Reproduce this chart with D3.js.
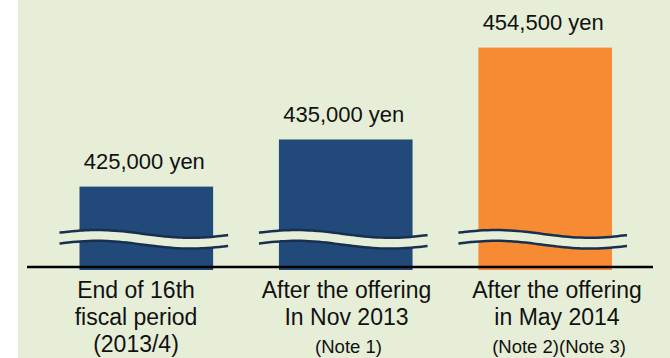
<!DOCTYPE html>
<html>
<head>
<meta charset="utf-8">
<script src="https://cdn.jsdelivr.net/npm/d3@7/dist/d3.min.js"></script>
<style>
  html, body { margin: 0; padding: 0; background: #ffffff; }
  svg { display: block; }
  text { font-family: "Liberation Sans", Arial, sans-serif; fill: #111; }
</style>
</head>
<body>
<svg id="chart" width="670" height="358"></svg>
<script>
// Investment unit price at each stage (yen)
const categories = ["fp16", "nov2013", "may2014"];
const prices = [425000, 435000, 454500];
const valueLabels = ["425,000 yen", "435,000 yen", "454,500 yen"];
const categoryLines = [
  ["End of 16th", "fiscal period", "(2013/4)"],
  ["After the offering", "In Nov 2013"],
  ["After the offering", "in May 2014"]
];
const notes = ["", "(Note 1)", "(Note 2)(Note 3)"];
const barColors = ["#214a7b", "#214a7b", "#f68b33"];

const W = 670, H = 358;
const bg = "#e6eed7";
const axisY = 267;
const barBottom = 270;

const svg = d3.select("#chart");

// panel background
svg.append("rect").attr("x", 18).attr("y", 0).attr("width", W - 18).attr("height", H).attr("fill", bg);

const x = d3.scaleBand().domain(categories).range([79.5, 612]).paddingInner(0.33).paddingOuter(0);
// the value axis is broken, so the bars start well above zero
const y = d3.scaleLinear().domain([407300, 464600]).range([barBottom, 0]);
const labelX = d3.scalePoint().domain(categories).range([136, 557]);

const data = categories.map((c, i) => ({ c, v: prices[i], label: valueLabels[i], color: barColors[i] }));

// bars
svg.selectAll("rect.bar").data(data).join("rect")
  .attr("class", "bar")
  .attr("x", d => x(d.c))
  .attr("y", d => y(d.v))
  .attr("width", x.bandwidth())
  .attr("height", d => barBottom - y(d.v))
  .attr("fill", d => d.color);

// value labels
svg.selectAll("text.val").data(data).join("text")
  .attr("class", "val")
  .attr("x", d => x(d.c) + x.bandwidth() / 2 - 2)
  .attr("y", d => y(d.v) - 17.5)
  .attr("text-anchor", "middle")
  .style("font-size", "22px")
  .text(d => d.label);

// break marks: a gap between two wavy lines across each bar
function wave(x0, x1, mid, amp) {
  return d3.range(0, 41).map(k => {
    const t = k / 40;
    return [x0 + t * (x1 - x0), mid - amp * Math.sin(2 * Math.PI * (t * 0.9 + 0.05))];
  });
}
const upperMid = 233.9, lowerMid = 244.7, amp = 3.9;
const line = d3.line().curve(d3.curveBasis);
data.forEach(d => {
  const x0 = x(d.c) - 20, x1 = x(d.c) + x.bandwidth() + 15;
  const up = wave(x0, x1, upperMid, amp);
  const lo = wave(x0, x1, lowerMid, amp);
  const band = up.concat(lo.slice().reverse());
  svg.append("path").attr("d", d3.line()(band) + "Z").attr("fill", bg);
  [up, lo].forEach(p => svg.append("path")
    .attr("d", line(p))
    .attr("fill", "none")
    .attr("stroke", "#18304f")
    .attr("stroke-width", 2.5)
    .attr("stroke-linecap", "butt"));
});

// baseline
svg.append("line").attr("x1", 27).attr("x2", 653).attr("y1", axisY).attr("y2", axisY)
  .attr("stroke", "#000").attr("stroke-width", 2.7);

// category labels
categories.forEach((c, i) => {
  categoryLines[i].forEach((t, j) => {
    svg.append("text")
      .attr("x", labelX(c))
      .attr("y", 298 + j * 27)
      .attr("text-anchor", "middle")
      .style("font-size", "23px")
      .text(t);
  });
  if (notes[i]) {
    svg.append("text")
      .attr("x", labelX(c) + 2)
      .attr("y", 353)
      .attr("text-anchor", "middle")
      .style("font-size", "18.5px")
      .text(notes[i]);
  }
});
</script>
</body>
</html>
